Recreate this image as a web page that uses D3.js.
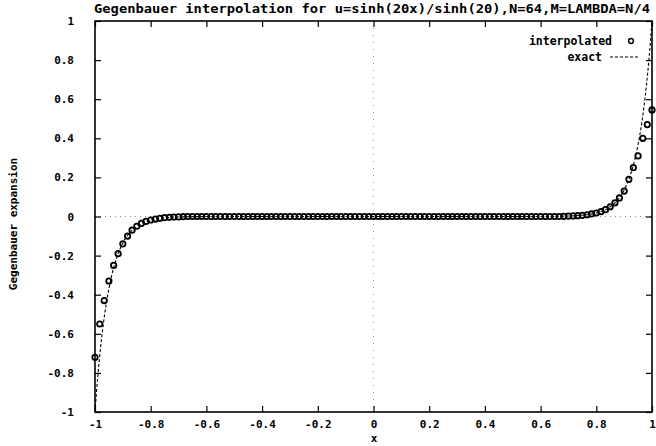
<!DOCTYPE html>
<meta charset="utf-8">
<head>
    <title>Gegenbauer interpolation</title>
    <script src="https://d3js.org/d3.v7.min.js"></script>
</head>
<style>
body { margin: 0; background: #fff; }
text {
    font-family: 'DejaVu Sans Mono', 'Liberation Mono', monospace;
    font-weight: bold;
    fill: #000;
}
</style>
<body>
<svg width="656" height="446"></svg>
<script>

// interpolated values
const interpX = [
    -1.000, -0.983, -0.967, -0.950, -0.933, -0.917, -0.900, -0.883, -0.867, -0.850,
    -0.833, -0.817, -0.800, -0.783, -0.767, -0.750, -0.733, -0.717, -0.700, -0.683,
    -0.667, -0.650, -0.633, -0.617, -0.600, -0.583, -0.567, -0.550, -0.533, -0.517,
    -0.500, -0.483, -0.467, -0.450, -0.433, -0.417, -0.400, -0.383, -0.367, -0.350,
    -0.333, -0.317, -0.300, -0.283, -0.267, -0.250, -0.233, -0.217, -0.200, -0.183,
    -0.167, -0.150, -0.133, -0.117, -0.100, -0.083, -0.067, -0.050, -0.033, -0.017,
    0.000,
    0.017, 0.033, 0.050, 0.067, 0.083, 0.100, 0.117, 0.133, 0.150, 0.167,
    0.183, 0.200, 0.217, 0.233, 0.250, 0.267, 0.283, 0.300, 0.317, 0.333,
    0.350, 0.367, 0.383, 0.400, 0.417, 0.433, 0.450, 0.467, 0.483, 0.500,
    0.517, 0.533, 0.550, 0.567, 0.583, 0.600, 0.617, 0.633, 0.650, 0.667,
    0.683, 0.700, 0.717, 0.733, 0.750, 0.767, 0.783, 0.800, 0.817, 0.833,
    0.850, 0.867, 0.883, 0.900, 0.917, 0.933, 0.950, 0.967, 0.983, 1.000
];
const interpY = [
    -0.72, -0.55, -0.43, -0.33, -0.25, -0.19, -0.14, -0.10, -0.07, -0.05,
    -0.035, -0.025, -0.018, -0.013, -0.009, -0.006, -0.004, -0.003, -0.002, -0.001,
    0, 0, 0, 0, 0, 0, 0, 0, 0, 0,
    0, 0, 0, 0, 0, 0, 0, 0, 0, 0,
    0, 0, 0, 0, 0, 0, 0, 0, 0, 0,
    0, 0, 0, 0, 0, 0, 0, 0, 0, 0,
    0,
    0, 0, 0, 0, 0, 0, 0, 0, 0, 0,
    0, 0, 0, 0, 0, 0, 0, 0, 0, 0,
    0, 0, 0, 0, 0, 0, 0, 0, 0, 0,
    0, 0, 0, 0, 0, 0, 0, 0, 0, 0,
    0.001, 0.002, 0.003, 0.004, 0.006, 0.009, 0.013, 0.018, 0.025, 0.035,
    0.05, 0.07, 0.095, 0.13, 0.19, 0.25, 0.31, 0.40, 0.47, 0.545
];

// exact curve samples
const exactX = [
    -1, -0.995, -0.99, -0.98, -0.97, -0.96, -0.95, -0.94, -0.92, -0.90,
    -0.88, -0.85, -0.80, -0.75, -0.70, -0.60, 0,
    0.60, 0.70, 0.75, 0.80, 0.85, 0.88, 0.90, 0.92, 0.94,
    0.95, 0.96, 0.97, 0.98, 0.99, 0.995, 1
];
const exactY = [
    -1, -0.905, -0.819, -0.670, -0.549, -0.449, -0.368, -0.301, -0.202, -0.135,
    -0.091, -0.050, -0.018, -0.0067, -0.0025, -0.0003, 0,
    0.0003, 0.0025, 0.0067, 0.018, 0.050, 0.091, 0.135, 0.202, 0.301,
    0.368, 0.449, 0.549, 0.670, 0.819, 0.905, 1
];

const xTicks = [-1, -0.8, -0.6, -0.4, -0.2, 0, 0.2, 0.4, 0.6, 0.8, 1];
const yTicks = [-1, -0.8, -0.6, -0.4, -0.2, 0, 0.2, 0.4, 0.6, 0.8, 1];

const svg = d3.select('svg');
const margin = {left: 95, right: 4, top: 21, bottom: 34};
const width = 656 - margin.left - margin.right,
    height = 446 - margin.top - margin.bottom;

const x = d3.scaleLinear().domain([-1, 1]).range([0, width]);
const y = d3.scaleLinear().domain([-1, 1]).range([height, 0]);

const g = svg.append('g')
    .attr('transform', `translate(${margin.left},${margin.top})`);

// zero axes, dotted
g.append('line')
    .attr('x1', 0).attr('x2', width)
    .attr('y1', y(0)).attr('y2', y(0))
    .attr('stroke', '#888').attr('stroke-width', 1).attr('stroke-dasharray', '1,4');
g.append('line')
    .attr('x1', x(0)).attr('x2', x(0))
    .attr('y1', 0).attr('y2', height)
    .attr('stroke', '#999').attr('stroke-width', 1).attr('stroke-dasharray', '1,6');

// ticks, inward on all sides
const fmt = d => d3.format('')(d).replace('\u2212', '-');

const xAxis = g.append('g')
    .attr('transform', `translate(0,${height})`)
    .call(d3.axisBottom(x).tickValues(xTicks).tickSize(-6).tickPadding(8).tickFormat(fmt));
const xTop = g.append('g')
    .call(d3.axisTop(x).tickValues(xTicks).tickSize(-6).tickFormat(''));
const yAxis = g.append('g')
    .call(d3.axisLeft(y).tickValues(yTicks).tickSize(-6).tickPadding(21).tickFormat(fmt));
const yRight = g.append('g')
    .attr('transform', `translate(${width},0)`)
    .call(d3.axisRight(y).tickValues(yTicks).tickSize(-6).tickFormat(''));

[xAxis, xTop, yAxis, yRight].forEach(a => {
    a.select('.domain').remove();
    a.selectAll('line').attr('stroke', '#000').attr('stroke-width', 1.2);
    a.selectAll('text')
        .style('font-family', "'DejaVu Sans Mono', monospace")
        .style('font-weight', 'bold')
        .style('font-size', '11px')
        .attr('fill', '#000');
});

// exact curve
const line = d3.line()
    .x((d, i) => x(exactX[i]))
    .y((d, i) => y(exactY[i]))
    .curve(d3.curveMonotoneX);

g.append('path')
    .datum(exactX)
    .attr('d', line)
    .attr('fill', 'none')
    .attr('stroke', '#000')
    .attr('stroke-width', 1.1)
    .attr('stroke-dasharray', '3,2');

// interpolated points
g.append('g')
    .selectAll('circle')
    .data(interpX)
    .enter()
    .append('circle')
    .attr('cx', (d, i) => x(d))
    .attr('cy', (d, i) => y(interpY[i]))
    .attr('r', 2.7)
    .attr('fill', 'none')
    .attr('stroke', '#000')
    .attr('stroke-width', 1.8);

// frame
g.append('rect')
    .attr('width', width)
    .attr('height', height)
    .attr('fill', 'none')
    .attr('stroke', '#000')
    .attr('stroke-width', 1.6);

// legend
svg.append('text')
    .attr('x', 612).attr('y', 45)
    .attr('text-anchor', 'end')
    .style('font-size', '11.5px')
    .text('interpolated');
svg.append('circle')
    .attr('cx', 631).attr('cy', 41)
    .attr('r', 2.4)
    .attr('fill', 'none')
    .attr('stroke', '#000')
    .attr('stroke-width', 1.5);
svg.append('text')
    .attr('x', 602).attr('y', 61)
    .attr('text-anchor', 'end')
    .style('font-size', '11.5px')
    .text('exact');
svg.append('line')
    .attr('x1', 610).attr('x2', 640)
    .attr('y1', 57).attr('y2', 57)
    .attr('stroke', '#000')
    .attr('stroke-width', 1.1)
    .attr('stroke-dasharray', '3,2');

// title and axis labels
svg.append('text')
    .attr('x', 372).attr('y', 13)
    .attr('text-anchor', 'middle')
    .attr('textLength', 556)
    .attr('lengthAdjust', 'spacingAndGlyphs')
    .style('font-size', '12px')
    .text('Gegenbauer interpolation for u=sinh(20x)/sinh(20),N=64,M=LAMBDA=N/4');

svg.append('text')
    .attr('x', 374).attr('y', 442)
    .attr('text-anchor', 'middle')
    .style('font-size', '11px')
    .text('x');

svg.append('text')
    .attr('transform', 'translate(17,224) rotate(-90)')
    .attr('text-anchor', 'middle')
    .style('font-size', '11px')
    .text('Gegenbauer expansion');

</script>
</body>
